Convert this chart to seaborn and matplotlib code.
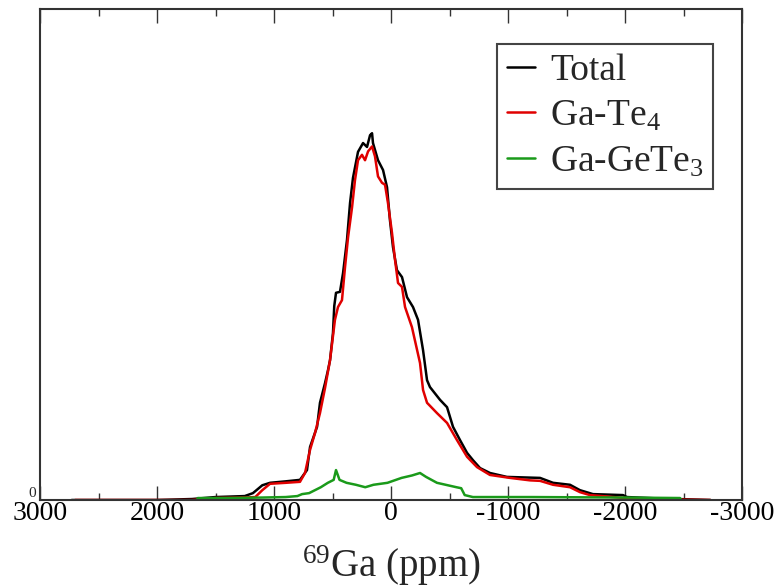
import pandas as pd
import matplotlib.pyplot as plt
import seaborn as sns
from matplotlib.ticker import MultipleLocator

sns.set_style("ticks")
plt.rcParams["font.family"] = ["Liberation Serif", "DejaVu Serif"]
plt.rcParams["mathtext.fontset"] = "custom"
plt.rcParams["mathtext.rm"] = "Liberation Serif"
plt.rcParams["mathtext.it"] = "Liberation Serif:italic"
plt.rcParams["axes.unicode_minus"] = False

# values (ppm, intensity)
total_ppm = [2730, 2000, 1700, 1500, 1250, 1180, 1100, 1034, 900, 778, 718, 692, 632, 607,
             564, 538, 521, 496, 485, 470, 436, 410, 376, 350, 325, 282, 239, 205, 179, 162,
             154, 111, 68, 34, 9, -17, -51, -94, -137, -188, -231, -274, -308, -333, -419,
             -479, -530, -590, -650, -701, -761, -846, -991, -1274, -1385, -1530, -1615,
             -1726, -1983, -2017, -2300, -2730]
total_val = [0.0, 0.0, 0.002, 0.006, 0.008, 0.014, 0.030, 0.035, 0.038, 0.041, 0.061, 0.108,
             0.149, 0.198, 0.238, 0.265, 0.285, 0.340, 0.395, 0.422, 0.424, 0.462, 0.530,
             0.605, 0.656, 0.709, 0.727, 0.719, 0.743, 0.747, 0.727, 0.692, 0.672, 0.637,
             0.570, 0.515, 0.468, 0.454, 0.413, 0.393, 0.367, 0.305, 0.244, 0.230, 0.204,
             0.189, 0.149, 0.122, 0.096, 0.081, 0.065, 0.055, 0.047, 0.045, 0.035, 0.031,
             0.020, 0.012, 0.010, 0.006, 0.003, 0.0]

te4_ppm = [2700, 1700, 1500, 1250, 1160, 1100, 1034, 900, 778, 735, 692, 650, 607, 564, 521,
           479, 453, 419, 393, 367, 333, 308, 282, 248, 222, 196, 162, 137, 111, 77, 51, 26,
           -8, -34, -60, -94, -120, -179, -248, -274, -308, -393, -479, -564, -650, -735,
           -846, -1017, -1188, -1274, -1385, -1530, -1615, -1700, -2000, -2400, -2730]
te4_val = [0.0, 0.0, 0.004, 0.005, 0.006, 0.020, 0.033, 0.035, 0.037, 0.055, 0.102, 0.136,
           0.177, 0.228, 0.285, 0.367, 0.393, 0.407, 0.474, 0.535, 0.596, 0.651, 0.692,
           0.703, 0.692, 0.710, 0.720, 0.700, 0.659, 0.646, 0.642, 0.605, 0.545, 0.490,
           0.442, 0.434, 0.393, 0.352, 0.279, 0.224, 0.198, 0.177, 0.157, 0.122, 0.088,
           0.067, 0.051, 0.045, 0.040, 0.039, 0.031, 0.026, 0.016, 0.010, 0.004, 0.001, 0.0]

gete3_ppm = [1660, 1650, 1400, 1100, 900, 800, 760, 700, 650, 600, 540, 490, 470, 440, 380,
             300, 220, 150, 30, -90, -180, -248, -300, -393, -560, -600, -630, -700, -1200,
             -2000, -2470, -2480]
gete3_val = [0.0, 0.004, 0.004, 0.005, 0.006, 0.008, 0.012, 0.014, 0.020, 0.026, 0.035,
             0.041, 0.061, 0.041, 0.035, 0.031, 0.026, 0.031, 0.035, 0.045, 0.050, 0.055,
             0.047, 0.035, 0.026, 0.024, 0.010, 0.006, 0.006, 0.005, 0.004, 0.0]

labels = ["Total", "Ga-Te$_4$", "Ga-GeTe$_3$"]
colors = ["black", "#e00000", "#1a9a1a"]

df = pd.concat([
    pd.DataFrame({"ppm": total_ppm, "I": total_val, "s": labels[0]}),
    pd.DataFrame({"ppm": te4_ppm, "I": te4_val, "s": labels[1]}),
    pd.DataFrame({"ppm": gete3_ppm, "I": gete3_val, "s": labels[2]}),
])

fig, ax = plt.subplots(figsize=(7.78, 5.87), dpi=100)
fig.subplots_adjust(left=40/778, right=742/778, top=1-9/587, bottom=1-500/587)

sns.lineplot(data=df, x="ppm", y="I", hue="s", hue_order=labels,
             palette=colors, linewidth=1.8, estimator=None, ax=ax)

ax.set_xlim(3000, -3000)
ax.set_ylim(0, 1)
ax.xaxis.set_major_locator(MultipleLocator(1000))
ax.xaxis.set_minor_locator(MultipleLocator(500))
ax.set_yticks([0])
ax.tick_params(axis="x", which="both", direction="in", top=True, colors="#333333",
               labelcolor="black", labelsize=20, pad=1)
ax.tick_params(axis="x", which="major", length=10, width=1)
ax.tick_params(axis="x", which="minor", length=5, width=1)
ax.tick_params(axis="y", length=0, labelsize=11, pad=3)
for t in ax.get_yticklabels():
    t.set_va("bottom")
for sp in ax.spines.values():
    sp.set_color("#333333")
    sp.set_linewidth(1.5)

ax.set_xlabel("$^{69}$Ga (ppm)", fontsize=28, labelpad=12)
ax.set_ylabel("")

leg = ax.legend(loc="upper right", bbox_to_anchor=(0.959, 0.929), borderaxespad=0,
                fontsize=27, handlelength=0.75, handletextpad=0.4, borderpad=0.25,
                labelspacing=0.3, fancybox=False, framealpha=1)
leg.get_frame().set_edgecolor("#444444")
leg.get_frame().set_linewidth(1.5)
for h in leg.get_lines():
    h.set_linewidth(1.8)

plt.savefig("out.png", dpi=100)
